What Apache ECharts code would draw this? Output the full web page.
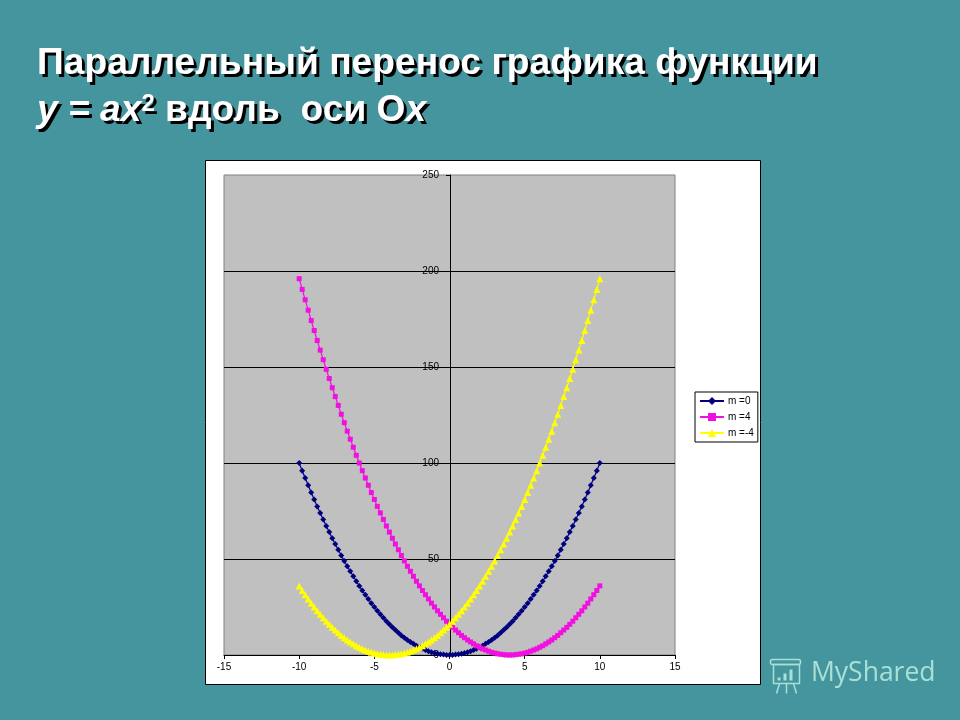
<!DOCTYPE html>
<html><head><meta charset="utf-8">
<style>html,body{margin:0;padding:0;background:#45959f}#c{width:960px;height:720px}</style>
<script src="https://cdn.jsdelivr.net/npm/echarts@6/dist/echarts.min.js"></script>
</head><body><div id="c"></div>
<script>
const xValues=[-10,-9.8,-9.6,-9.4,-9.2,-9,-8.8,-8.6,-8.4,-8.2,-8,-7.8,-7.6,-7.4,-7.2,-7,-6.8,-6.6,-6.4,-6.2,-6,-5.8,-5.6,-5.4,-5.2,-5,-4.8,-4.6,-4.4,-4.2,-4,-3.8,-3.6,-3.4,-3.2,-3,-2.8,-2.6,-2.4,-2.2,-2,-1.8,-1.6,-1.4,-1.2,-1,-0.8,-0.6,-0.4,-0.2,0,0.2,0.4,0.6,0.8,1,1.2,1.4,1.6,1.8,2,2.2,2.4,2.6,2.8,3,3.2,3.4,3.6,3.8,4,4.2,4.4,4.6,4.8,5,5.2,5.4,5.6,5.8,6,6.2,6.4,6.6,6.8,7,7.2,7.4,7.6,7.8,8,8.2,8.4,8.6,8.8,9,9.2,9.4,9.6,9.8,10];
const m0=[100,96,92.2,88.4,84.6,81,77.4,74,70.6,67.2,64,60.8,57.8,54.8,51.8,49,46.2,43.6,41,38.4,36,33.6,31.4,29.2,27,25,23,21.2,19.4,17.6,16,14.4,13,11.6,10.2,9,7.8,6.8,5.8,4.8,4,3.2,2.6,2,1.4,1,0.6,0.4,0.2,0,0,0,0.2,0.4,0.6,1,1.4,2,2.6,3.2,4,4.8,5.8,6.8,7.8,9,10.2,11.6,13,14.4,16,17.6,19.4,21.2,23,25,27,29.2,31.4,33.6,36,38.4,41,43.6,46.2,49,51.8,54.8,57.8,60.8,64,67.2,70.6,74,77.4,81,84.6,88.4,92.2,96,100];
const m4=[196,190.4,185,179.6,174.2,169,163.8,158.8,153.8,148.8,144,139.2,134.6,130,125.4,121,116.6,112.4,108.2,104,100,96,92.2,88.4,84.6,81,77.4,74,70.6,67.2,64,60.8,57.8,54.8,51.8,49,46.2,43.6,41,38.4,36,33.6,31.4,29.2,27,25,23,21.2,19.4,17.6,16,14.4,13,11.6,10.2,9,7.8,6.8,5.8,4.8,4,3.2,2.6,2,1.4,1,0.6,0.4,0.2,0,0,0,0.2,0.4,0.6,1,1.4,2,2.6,3.2,4,4.8,5.8,6.8,7.8,9,10.2,11.6,13,14.4,16,17.6,19.4,21.2,23,25,27,29.2,31.4,33.6,36];
const mNeg4=[36,33.6,31.4,29.2,27,25,23,21.2,19.4,17.6,16,14.4,13,11.6,10.2,9,7.8,6.8,5.8,4.8,4,3.2,2.6,2,1.4,1,0.6,0.4,0.2,0,0,0,0.2,0.4,0.6,1,1.4,2,2.6,3.2,4,4.8,5.8,6.8,7.8,9,10.2,11.6,13,14.4,16,17.6,19.4,21.2,23,25,27,29.2,31.4,33.6,36,38.4,41,43.6,46.2,49,51.8,54.8,57.8,60.8,64,67.2,70.6,74,77.4,81,84.6,88.4,92.2,96,100,104,108.2,112.4,116.6,121,125.4,130,134.6,139.2,144,148.8,153.8,158.8,163.8,169,174.2,179.6,185,190.4,196];
const seriesNames=['m =0','m =4','m =-4'];
const titleLine1='Параллельный перенос графика функции';
const sans='"Liberation Sans",Arial,sans-serif';
const zip=v=>xValues.map((x,i)=>[x,v[i]]);
const t=(extra)=>Object.assign({fontFamily:sans,fontWeight:'bold',fontSize:37.2,fill:'#fff',textShadowColor:'#000',textShadowBlur:0.3,textShadowOffsetX:3,textShadowOffsetY:3},extra);
const chart=echarts.init(document.getElementById('c'),null,{renderer:'canvas'});
const mk=(name,data,color,symbol,size)=>({name,type:'line',data:zip(data),symbol,symbolSize:size,showSymbol:true,
  lineStyle:{color,width:1.2},itemStyle:{color},clip:false,animation:false,z:3});
chart.setOption({
  animation:false,backgroundColor:'#45959f',
  grid:{left:224,right:285,top:175,bottom:65,show:true,backgroundColor:'#c0c0c0',borderColor:'#808080',borderWidth:1},
  xAxis:{type:'value',min:-15,max:15,interval:5,splitLine:{show:false},
    axisLine:{lineStyle:{color:'#000',width:1},onZero:false},axisTick:{length:4,lineStyle:{color:'#000'}},
    axisLabel:{color:'#000',fontSize:10,fontFamily:sans,margin:7,showMinLabel:true,showMaxLabel:true}},
  yAxis:{type:'value',min:0,max:250,interval:50,offset:-226,
    splitLine:{show:true,showMinLine:false,showMaxLine:false,lineStyle:{color:'#000',width:1}},
    axisLine:{show:true,onZero:false,lineStyle:{color:'#000',width:1}},axisTick:{show:true,length:4,lineStyle:{color:'#000'}},
    axisLabel:{color:'#000',fontSize:10,fontFamily:sans,margin:11}},
  legend:{orient:'vertical',left:695,top:392,data:seriesNames,backgroundColor:'#fff',borderColor:'#000',borderWidth:1,borderRadius:0,
    padding:[4,4,4,4],itemGap:6,itemWidth:24,itemHeight:10,textStyle:{color:'#000',fontSize:10,fontFamily:sans,padding:[0,0,0,-1]}},
  series:[mk(seriesNames[0],m0,'#000080','diamond',6),mk(seriesNames[1],m4,'#f010e0','rect',5),mk(seriesNames[2],mNeg4,'#ffff00','triangle',7)],
  graphic:[
    {type:'rect',z:-10,silent:true,shape:{x:205.5,y:160.5,width:555,height:524},style:{fill:'#fff',stroke:'#000',lineWidth:1}},
    {type:'text',left:37,top:45,z:10,style:{text:'{b|'+titleLine1+'}',rich:{b:t({})}}},
    {type:'text',left:37,top:92,z:10,style:{
      text:'{i|у = ах}{s|2}{b| вдоль  оси О}{i|х}',
      rich:{i:t({fontStyle:'italic'}),b:t({}),s:t({fontSize:24,verticalAlign:'top',lineHeight:36,fontStyle:'normal'})}}},
    {type:'text',left:811,top:660,z:10,style:{text:'MyShared',fontFamily:'"Open Sans",sans-serif',fontSize:26.5,fill:'#a8e0d6'}},
    {type:'group',left:768,top:657,z:10,silent:true,children:[
      {type:'rect',shape:{x:3,y:2,width:30,height:5,r:2},style:{fill:'none',stroke:'#a8e0d6',lineWidth:1.5}},
      {type:'rect',shape:{x:6,y:7,width:26,height:19},style:{fill:'none',stroke:'#a8e0d6',lineWidth:1.5}},
      {type:'rect',shape:{x:10,y:20,width:3,height:3},style:{fill:'#a8e0d6'}},
      {type:'rect',shape:{x:16,y:16,width:3,height:7},style:{fill:'#a8e0d6'}},
      {type:'rect',shape:{x:22,y:12,width:3,height:11},style:{fill:'#a8e0d6'}},
      {type:'line',shape:{x1:12,y1:26,x2:9,y2:36},style:{stroke:'#a8e0d6',lineWidth:1.5}},
      {type:'line',shape:{x1:19,y1:26,x2:19,y2:36},style:{stroke:'#a8e0d6',lineWidth:1.5}},
      {type:'line',shape:{x1:26,y1:26,x2:29,y2:36},style:{stroke:'#a8e0d6',lineWidth:1.5}}
    ]}
  ]
});
</script></body></html>
